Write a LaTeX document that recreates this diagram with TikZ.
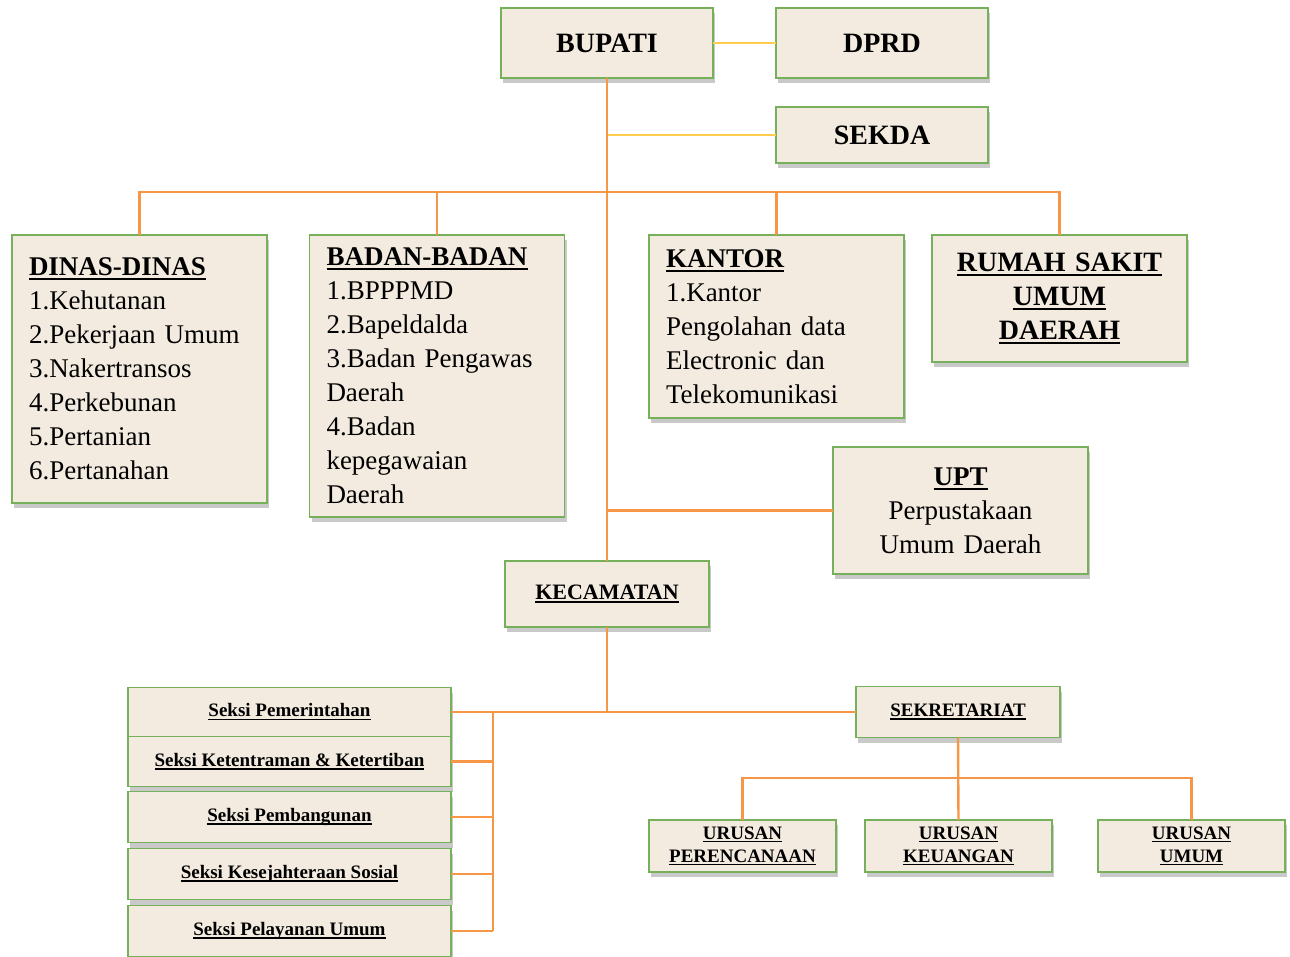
\documentclass[tikz,border=0pt]{standalone}
\usepackage{fontspec}
\setmainfont{Liberation Serif}
\usetikzlibrary{positioning,shadows}
\definecolor{boxgreen}{RGB}{119,176,90}
\definecolor{boxfill}{RGB}{243,235,223}
\definecolor{linkorange}{RGB}{247,150,70}
\definecolor{linkyellow}{RGB}{255,204,77}
\newcommand{\ulbox}[2][2.2pt]{\leavevmode\setbox0=\hbox{#2}\rlap{\rule[-0.17em]{\wd0}{#1}}\box0}

\begin{document}
\begin{tikzpicture}[x=1pt, y=-1pt,
    unit/.style={rectangle, draw=boxgreen, line width=1.6pt, fill=boxfill,
        drop shadow={shadow xshift=2pt, shadow yshift=-5pt, opacity=0.3, fill=black!70},
        inner sep=0pt, outer sep=0pt},
    headbox/.style={unit, minimum width=212pt, minimum height=70pt,
        font=\fontsize{28}{34}\selectfont\bfseries},
    listbox/.style={unit, text width=221pt, inner xsep=17pt, align=left,
        font=\fontsize{27}{34}\selectfont},
    centerbox/.style={listbox, align=center},
    seksi/.style={unit, minimum width=323pt, minimum height=50pt,
        font=\fontsize{19}{23}\selectfont\bfseries},
    urusan/.style={unit, minimum width=187pt, minimum height=52pt, align=center,
        font=\fontsize{19}{23}\selectfont\bfseries},
    oline/.style={draw=linkorange, line width=2.4pt},
    yline/.style={draw=linkyellow, line width=2pt}
]
\useasboundingbox (0,0) rectangle (1290,957);

% top level
\node[headbox] (bupati) at (607,43) {BUPATI};
\node[headbox, right=63pt of bupati] (dprd) {DPRD};
\node[headbox, minimum height=56pt, below=29pt of dprd] (sekda) {SEKDA};

% units under the bupati
\node[listbox, minimum height=268pt] (dinas) at (139.5,369)
    {\ulbox{\textbf{DINAS-DINAS}}\\1.Kehutanan\\2.Pekerjaan Umum\\3.Nakertransos\\4.Perkebunan\\5.Pertanian\\6.Pertanahan};
\node[listbox, minimum height=282pt] (badan) at (437,376)
    {\ulbox{\textbf{BADAN-BADAN}}\\1.BPPPMD\\2.Bapeldalda\\3.Badan Pengawas\\Daerah\\4.Badan\\kepegawaian\\Daerah};
\node[listbox, minimum height=183pt] (kantor) at (776.5,326.5)
    {\ulbox{\textbf{KANTOR}}\\1.Kantor\\Pengolahan data\\Electronic dan\\Telekomunikasi};
\node[centerbox, minimum height=127pt, font=\fontsize{28}{34}\selectfont\bfseries] (rsud) at (1059.5,298.5)
    {\ulbox{RUMAH SAKIT}\\\ulbox{UMUM}\\\ulbox{DAERAH}};
\node[centerbox, minimum height=127pt] (upt) at (960.5,510.5)
    {\ulbox{\textbf{UPT}}\\Perpustakaan\\Umum Daerah};

\node[unit, minimum width=204pt, minimum height=66pt,
    font=\fontsize{22}{26}\selectfont\bfseries] (kec) at (607,594) {\ulbox[1.8pt]{KECAMATAN}};

% kecamatan sections
\node[seksi, minimum height=49pt] (s1) at (289.5,712) {\ulbox[1.5pt]{Seksi Pemerintahan}};
\node[seksi, below=0pt of s1] (s2) {\ulbox[1.5pt]{Seksi Ketentraman \& Ketertiban}};
\node[seksi, minimum height=51pt, below=5pt of s2] (s3) {\ulbox[1.5pt]{Seksi Pembangunan}};
\node[seksi, minimum height=51pt, below=6pt of s3] (s4) {\ulbox[1.5pt]{Seksi Kesejahteraan Sosial}};
\node[seksi, minimum height=51pt, below=6pt of s4] (s5) {\ulbox[1.5pt]{Seksi Pelayanan Umum}};

\node[unit, minimum width=204pt, minimum height=51pt,
    font=\fontsize{19}{23}\selectfont\bfseries] (sekr) at (958,712) {\ulbox[1.5pt]{SEKRETARIAT}};
\node[urusan] (per) at (742.5,846) {\ulbox[1.5pt]{URUSAN}\\\ulbox[1.5pt]{PERENCANAAN}};
\node[urusan, right=29pt of per] (keu) {\ulbox[1.5pt]{URUSAN}\\\ulbox[1.5pt]{KEUANGAN}};
\node[urusan, right=46pt of keu] (umum) {\ulbox[1.5pt]{URUSAN}\\\ulbox[1.5pt]{UMUM}};

% connectors
\coordinate (bus) at (607,192);
\coordinate (sbar) at (493,712);
\coordinate (ubus) at (958,778);

\draw[yline] (bupati) -- (dprd);
\draw[yline] (sekda.west) -- (sekda.west -| bupati.south);
\draw[oline] (bupati.south) -- (kec.north);
\draw[oline] (dinas.north) |- (bus) -| (rsud.north);
\draw[oline] (badan.north) -- (badan.north |- bus);
\draw[oline] (kantor.north) -- (kantor.north |- bus);
\draw[oline] (upt.west) -- (upt.west -| bupati.south);

\draw[oline] (kec.south) -- (kec.south |- s1.east);
\draw[oline] (s1.east) -- (sekr.west);
\foreach \s in {s2,s3,s4,s5}
    \draw[oline] (\s.east) -- (\s.east -| sbar);
\draw[oline] (sbar) -- (sbar |- s5.east);

\draw[oline] (sekr.south) -- (keu.north);
\draw[oline] (per.north) |- (ubus) -| (umum.north);
\end{tikzpicture}
\end{document}
